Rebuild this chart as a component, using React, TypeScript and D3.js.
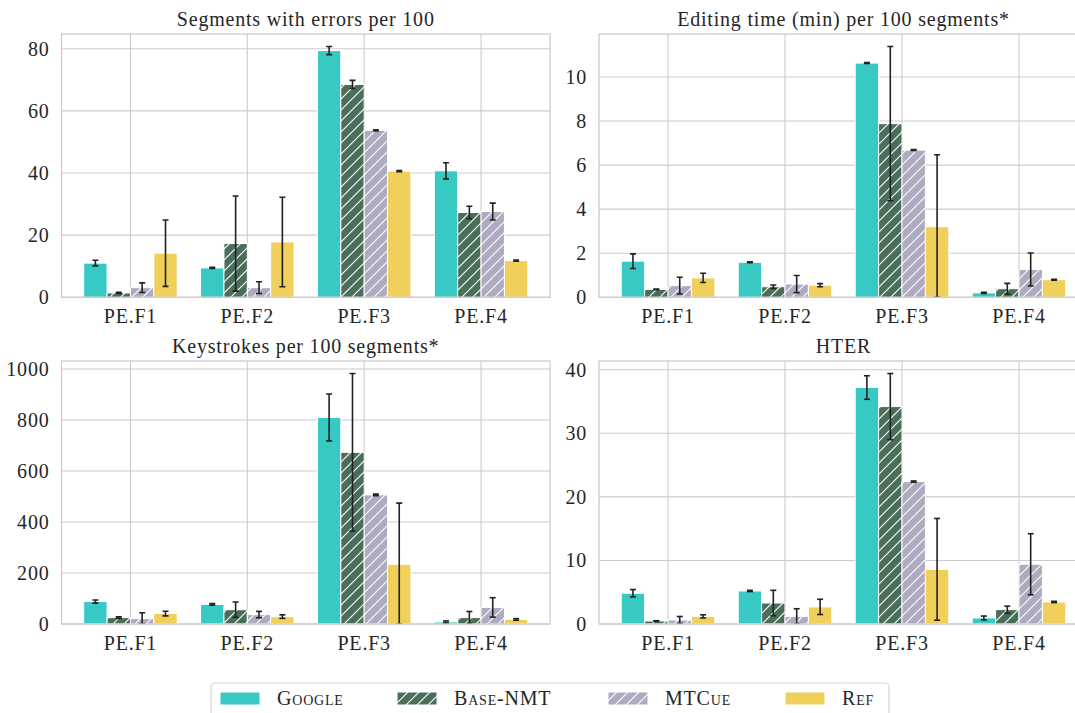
import * as d3 from 'd3'

// categories and systems
const categories = ['PE.F1', 'PE.F2', 'PE.F3', 'PE.F4']
const systems = ['Google', 'Base-NMT', 'MTCue', 'Ref']
const colors = ['#38c9c5', '#4a6e5a', '#aeaac0', '#f0cf5a']
const hatched = [false, true, true, false]

// values per system (rows) and category (columns)
const segErrVals = [
  [11.0, 9.45, 79.4, 40.7],
  [1.4, 17.3, 68.5, 27.3],
  [3.1, 3.1, 53.7, 27.6],
  [14.2, 17.8, 40.6, 11.8],
]
const segErrErr = [
  [0.9, 0.2, 1.3, 2.6],
  [0.2, 15.3, 1.3, 2.0],
  [1.55, 1.9, 0.2, 2.7],
  [10.7, 14.4, 0.2, 0.2],
]

const editVals = [
  [1.64, 1.59, 10.63, 0.2],
  [0.36, 0.48, 7.88, 0.39],
  [0.53, 0.6, 6.68, 1.26],
  [0.88, 0.55, 3.2, 0.8],
]
const editErr = [
  [0.33, 0.02, 0.02, 0.03],
  [0.02, 0.08, 3.5, 0.24],
  [0.38, 0.39, 0.02, 0.75],
  [0.21, 0.07, 3.27, 0.02],
]

const keyVals = [
  [88, 77, 810, 8],
  [25, 56, 673, 25],
  [21, 37, 506, 65],
  [41, 29, 234, 18],
]
const keyErr = [
  [6, 3, 92, 4],
  [3, 30, 309, 24],
  [23, 12.5, 3, 38],
  [9, 7, 240, 3],
]

const hterVals = [
  [4.84, 5.2, 37.2, 0.95],
  [0.47, 3.3, 34.2, 2.26],
  [0.63, 1.2, 22.4, 9.4],
  [1.2, 2.69, 8.6, 3.47],
]
const hterErr = [
  [0.58, 0.1, 1.85, 0.3],
  [0.05, 2.0, 5.2, 0.55],
  [0.55, 1.2, 0.1, 4.8],
  [0.25, 1.2, 8.0, 0.1],
]

const segTicks = [0, 20, 40, 60, 80]
const editTicks = [0, 2, 4, 6, 8, 10]
const keyTicks = [0, 200, 400, 600, 800, 1000]
const hterTicks = [0, 10, 20, 30, 40]

const panels = [
  { title: 'Segments with errors per 100', vals: segErrVals, err: segErrErr, ticks: segTicks, left: 61.5, right: 550, top: 34, bottom: 297.3 },
  { title: 'Editing time (min) per 100 segments*', vals: editVals, err: editErr, ticks: editTicks, left: 599, right: 1088, top: 34, bottom: 297.3 },
  { title: 'Keystrokes per 100 segments*', vals: keyVals, err: keyErr, ticks: keyTicks, left: 61.5, right: 550, top: 361, bottom: 624 },
  { title: 'HTER', vals: hterVals, err: hterErr, ticks: hterTicks, left: 599, right: 1088, top: 361, bottom: 624 },
]

const font = "'Liberation Serif', 'DejaVu Serif', serif"
const grid = '#cccccc'
const txt = { fontFamily: font, fontSize: 20, letterSpacing: '0.8px', fill: '#262626' }

const Panel = ({ p, i }: { p: typeof panels[number]; i: number }) => {
  const x = d3.scaleLinear().domain([-0.59, 3.59]).range([p.left, p.right])
  const top = d3.max(p.vals.flatMap((row, s) => row.map((v, c) => v + p.err[s][c]))) as number
  const y = d3.scaleLinear().domain([0, top * 1.05]).range([p.bottom, p.top])
  const bw = x(0.2) - x(0)
  return (
    <g>
      <clipPath id={`clip${i}`}>
        <rect x={p.left} y={p.top} width={p.right - p.left} height={p.bottom - p.top} />
      </clipPath>
      <text x={(p.left + p.right) / 2} y={p.top - 8} textAnchor="middle" style={txt}>{p.title}</text>
      {p.ticks.map(t => (
        <g key={t}>
          <line x1={p.left} x2={p.right} y1={y(t)} y2={y(t)} stroke={grid} strokeWidth={1.1} />
          <text x={p.left - 12} y={y(t)} dy="0.35em" textAnchor="end" style={txt}>{t}</text>
        </g>
      ))}
      {categories.map((c, ci) => (
        <g key={c}>
          <line x1={x(ci)} x2={x(ci)} y1={p.top} y2={p.bottom} stroke={grid} strokeWidth={1.1} />
          <text x={x(ci)} y={p.bottom + 26} textAnchor="middle" style={txt}>{c}</text>
        </g>
      ))}
      <g clipPath={`url(#clip${i})`}>
        {systems.map((s, si) => p.vals[si].map((v, ci) => {
          const cx = x(ci + (si - 1.5) * 0.2)
          return (
            <rect key={s + ci} x={cx - bw / 2} y={y(v)} width={bw} height={y(0) - y(v)}
              fill={hatched[si] ? `url(#hatch${si})` : colors[si]} stroke="#fff" strokeWidth={1} />
          )
        }))}
        {systems.map((s, si) => p.vals[si].map((v, ci) => {
          const cx = x(ci + (si - 1.5) * 0.2)
          const e = p.err[si][ci]
          const lo = y(Math.max(0, v - e))
          const hi = y(v + e)
          return (
            <g key={'e' + s + ci} stroke="#222" strokeWidth={1.6}>
              <line x1={cx} x2={cx} y1={lo} y2={hi} />
              <line x1={cx - 3} x2={cx + 3} y1={lo} y2={lo} />
              <line x1={cx - 3} x2={cx + 3} y1={hi} y2={hi} />
            </g>
          )
        }))}
      </g>
      <rect x={p.left} y={p.top} width={p.right - p.left} height={p.bottom - p.top} fill="none" stroke={grid} strokeWidth={1.3} />
    </g>
  )
}

const legendX = [220, 397, 608, 785]

export default function App() {
  return (
    <svg width={1075} height={713} style={{ position: 'absolute', left: 0, top: 0, background: '#fff' }}>
      <defs>
        {colors.map((c, i) => (
          <pattern key={i} id={`hatch${i}`} patternUnits="userSpaceOnUse" width={11} height={11}>
            <rect width={11} height={11} fill={c} />
            <path d="M0,11 L11,0 M-2,2 L2,-2 M9,13 L13,9" stroke="#fff" strokeWidth={1.1} />
          </pattern>
        ))}
      </defs>
      {panels.map((p, i) => <Panel key={i} p={p} i={i} />)}
      <rect x={211} y={683} width={678} height={40} rx={4} fill="#fff" stroke="#d6d6d6" strokeWidth={1.2} />
      {systems.map((s, i) => (
        <g key={s}>
          <rect x={legendX[i]} y={692} width={40} height={13} fill={hatched[i] ? `url(#hatch${i})` : colors[i]} stroke="#fff" strokeWidth={1} />
          <text x={legendX[i] + 57} y={705} style={{ ...txt, fontVariant: 'small-caps' }}>{s}</text>
        </g>
      ))}
    </svg>
  )
}
